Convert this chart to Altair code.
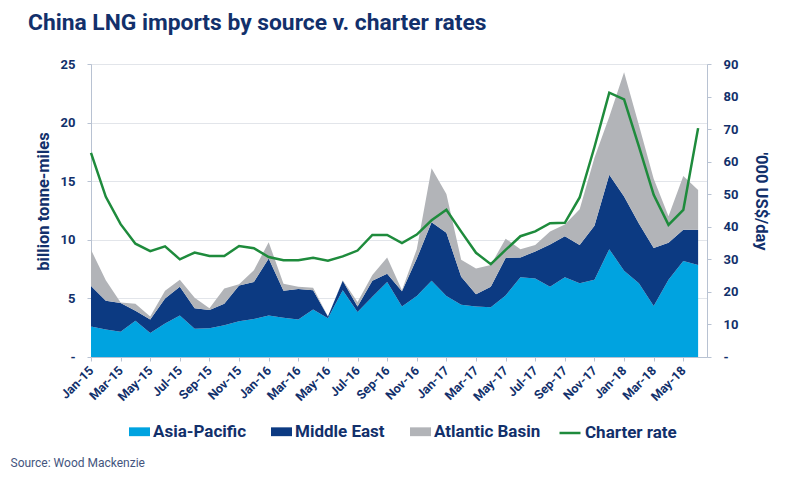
import altair as alt
import pandas as pd

months = [
    "Jan-15", "Feb-15", "Mar-15", "Apr-15", "May-15", "Jun-15", "Jul-15", "Aug-15", "Sep-15", "Oct-15", "Nov-15", "Dec-15",
    "Jan-16", "Feb-16", "Mar-16", "Apr-16", "May-16", "Jun-16", "Jul-16", "Aug-16", "Sep-16", "Oct-16", "Nov-16", "Dec-16",
    "Jan-17", "Feb-17", "Mar-17", "Apr-17", "May-17", "Jun-17", "Jul-17", "Aug-17", "Sep-17", "Oct-17", "Nov-17", "Dec-17",
    "Jan-18", "Feb-18", "Mar-18", "Apr-18", "May-18", "Jun-18",
]
tick_labels = [
    "Jan-15", "Mar-15", "May-15", "Jul-15", "Sep-15", "Nov-15",
    "Jan-16", "Mar-16", "May-16", "Jul-16", "Sep-16", "Nov-16",
    "Jan-17", "Mar-17", "May-17", "Jul-17", "Sep-17", "Nov-17",
    "Jan-18", "Mar-18", "May-18",
]
asia_pacific = [
    2.6, 2.35, 2.15, 3.1, 2.05, 2.85, 3.55, 2.4, 2.45, 2.7, 3.05, 3.25,
    3.55, 3.35, 3.2, 4.05, 3.3, 5.7, 3.85, 5.15, 6.4, 4.3, 5.2, 6.5,
    5.2, 4.45, 4.3, 4.25, 5.25, 6.8, 6.7, 6.0, 6.8, 6.3, 6.6, 9.2,
    7.35, 6.3, 4.35, 6.6, 8.2, 7.85,
]
middle_east = [
    3.45, 2.45, 2.45, 0.85, 1.15, 2.15, 2.45, 1.75, 1.55, 1.85, 3.05, 3.15,
    4.85, 2.3, 2.6, 1.65, 0.15, 0.8, 0.45, 1.35, 0.7, 1.3, 3.2, 5.0,
    5.4, 2.4, 1.05, 1.75, 3.2, 1.7, 2.3, 3.6, 3.5, 3.25, 4.6, 6.35,
    6.35, 5.1, 4.95, 3.15, 2.65, 3.0,
]
atlantic_basin = [
    3.1, 1.75, 0.05, 0.6, 0.25, 0.65, 0.6, 0.9, 0.15, 1.3, 0.1, 1.0,
    1.4, 0.6, 0.2, 0.2, 0.0, 0.05, 0.4, 0.5, 1.4, 0.1, 0.8, 4.6,
    3.3, 1.45, 2.2, 1.85, 1.65, 0.7, 0.55, 1.1, 1.0, 3.05, 5.8, 4.95,
    10.6, 8.4, 5.9, 2.25, 4.6, 3.4,
]
charter_rate = [
    62.7, 49.2, 40.8, 34.8, 32.5, 34.0, 30.0, 32.1, 31.0, 31.0, 34.1, 33.4,
    30.7, 29.7, 29.7, 30.5, 29.6, 30.9, 32.7, 37.5, 37.5, 35.0, 37.6, 42.0,
    45.2, 38.5, 32.0, 28.5, 32.9, 37.1, 38.6, 41.1, 41.2, 49.0, 64.5, 81.2,
    79.1, 64.7, 49.8, 40.6, 45.2, 70.3,
]
series_names = ["Asia-Pacific", "Middle East", "Atlantic Basin"]
series_colors = ["#00a3e0", "#0c3a82", "#b2b4b8"]
line_name = "Charter rate"
line_color = "#1e8b3c"

NAVY = "#12306b"
FONT = "Roboto"

rows = []
for k, (name, vals) in enumerate(zip(series_names, [asia_pacific, middle_east, atlantic_basin])):
    for i, (m, v) in enumerate(zip(months, vals)):
        rows.append({"idx": i, "month": m, "series": name, "order": k, "value": v})
area_df = pd.DataFrame(rows)
line_df = pd.DataFrame({
    "idx": list(range(len(months))),
    "month": months,
    "charter": charter_rate,
    "series": [line_name] * len(months),
})

label_js = "[" + ",".join("'" + t + "'" for t in tick_labels) + "][round(datum.value/2)]"

x_axis = alt.Axis(
    values=list(range(0, 41, 2)),
    labelExpr=label_js,
    labelAngle=-45,
    labelAlign="right",
    labelBaseline="middle",
    labelPadding=7,
    labelOverlap=False,
    labelBound=False,
    labelFlush=False,
    labelFont=FONT,
    labelFontSize=12.5,
    labelFontWeight="bold",
    labelColor=NAVY,
    tickSize=4,
    tickColor="#b8c2d2",
    domainColor="#b8c2d2",
    grid=False,
    title="Source: Wood Mackenzie",
    titleX=-81,
    titleY=109,
    titleAlign="left",
    titleAnchor="start",
    titleBaseline="alphabetic",
    titleFont=FONT,
    titleFontSize=12,
    titleFontWeight="normal",
    titleColor="#44557e",
)
x_scale = alt.Scale(domain=[0, 41.6], nice=False, zero=False)

areas = alt.Chart(area_df).mark_area(opacity=1).encode(
    x=alt.X("idx:Q", scale=x_scale, axis=x_axis),
    y=alt.Y(
        "value:Q",
        stack="zero",
        scale=alt.Scale(domain=[0, 25], nice=False),
        axis=alt.Axis(
            values=[0, 5, 10, 15, 20, 25],
            labelExpr="datum.value == 0 ? '-' : datum.label",
            labelFont=FONT,
            labelFontSize=13,
            labelFontWeight="bold",
            labelColor=NAVY,
            labelPadding=12,
            tickSize=4,
            tickColor="#b8c2d2",
            domainColor="#b8c2d2",
            grid=True,
            gridColor="#e2e5ea",
            title="billion tonne-miles",
            titleX=-43,
            titleY=137,
            titleBaseline="alphabetic",
            titleFont=FONT,
            titleFontSize=16.5,
            titleFontWeight="bold",
            titleColor=NAVY,
        ),
    ),
    fill=alt.Fill(
        "series:N",
        scale=alt.Scale(domain=series_names, range=series_colors),
        legend=alt.Legend(
            orient="none",
            legendX=38,
            legendY=357,
            direction="horizontal",
            columns=3,
            title=None,
            symbolType="M-1,-0.42H1V0.42H-1Z",
            symbolSize=441,
            symbolStrokeWidth=0,
            labelFont=FONT,
            labelFontSize=17,
            labelFontWeight="bold",
            labelColor=NAVY,
            labelOffset=3,
            columnPadding=25,
            padding=0,
        ),
    ),
    order=alt.Order("order:Q"),
)

line = alt.Chart(line_df).mark_line(strokeWidth=2.5).encode(
    x=alt.X("idx:Q", scale=x_scale, axis=x_axis),
    y=alt.Y(
        "charter:Q",
        scale=alt.Scale(domain=[0, 90], nice=False),
        axis=alt.Axis(
            orient="right",
            values=[0, 10, 20, 30, 40, 50, 60, 70, 80, 90],
            labelExpr="datum.value == 0 ? '-' : datum.label",
            labelFont=FONT,
            labelFontSize=13,
            labelFontWeight="bold",
            labelColor=NAVY,
            labelPadding=12,
            tickSize=4,
            tickColor="#b8c2d2",
            domainColor="#b8c2d2",
            grid=False,
            title="'000 US$/day",
            titleX=48,
            titleY=137,
            titleBaseline="alphabetic",
            titleFont=FONT,
            titleFontSize=16.5,
            titleFontWeight="bold",
            titleColor=NAVY,
        ),
    ),
    stroke=alt.Stroke(
        "series:N",
        scale=alt.Scale(domain=[line_name], range=[line_color]),
        legend=alt.Legend(
            orient="none",
            legendX=467,
            legendY=357,
            direction="horizontal",
            title=None,
            symbolType="stroke",
            symbolSize=441,
            symbolStrokeWidth=2.5,
            labelFont=FONT,
            labelFontSize=17,
            labelFontWeight="bold",
            labelColor=NAVY,
            labelOffset=3,
            padding=0,
        ),
    ),
)

chart = alt.layer(areas, line).resolve_scale(
    y="independent", fill="independent", stroke="independent"
).properties(
    width=616,
    height=293,
    autosize=alt.AutoSizeParams(type="none"),
    padding={"left": 83, "top": 56, "right": 85, "bottom": 115},
    title=alt.Title(
        "China LNG imports by source v. charter rates",
        anchor="start",
        frame="group",
        dx=-63,
        dy=28,
        offset=33,
        baseline="alphabetic",
        font=FONT,
        fontSize=22.8,
        fontWeight="bold",
        color=NAVY,
    ),
).configure_view(stroke=None).configure(background="white")

chart.save("out.html", embed_options={"renderer": "svg", "actions": False})
